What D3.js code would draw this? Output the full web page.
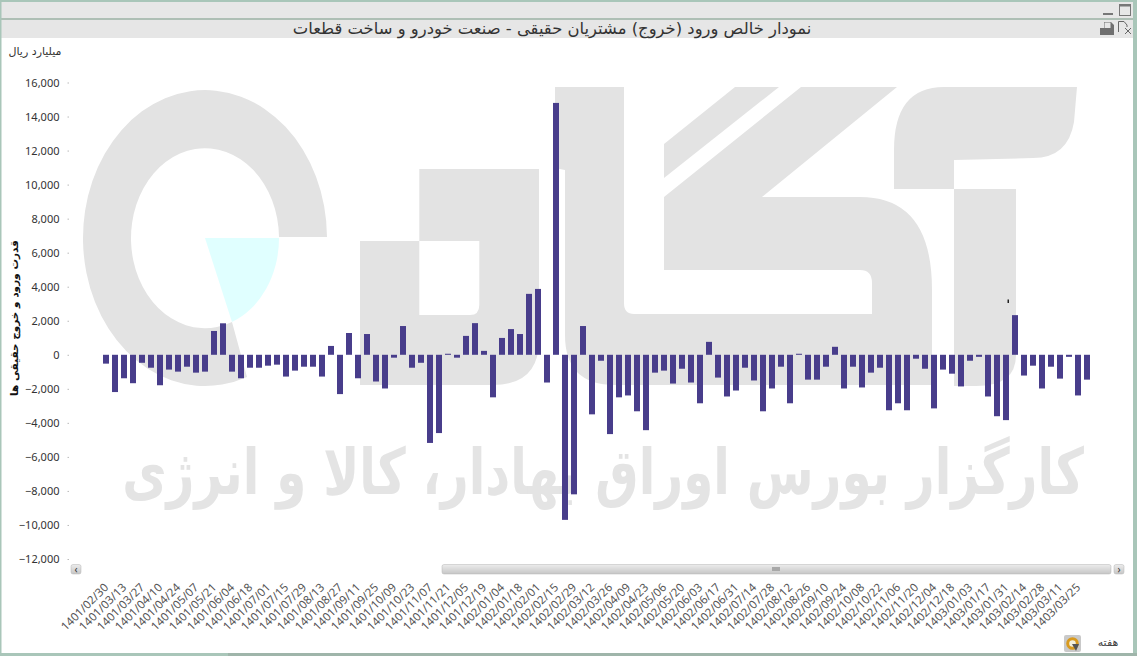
<!DOCTYPE html>
<html><head><meta charset="utf-8">
<script src="https://cdn.jsdelivr.net/npm/d3@7"></script>
<style>html,body{margin:0;padding:0;background:#fff;overflow:hidden}svg{display:block}</style></head>
<body><svg id="c" width="1137" height="656"></svg>
<script>
const chartTitle="نمودار خالص ورود (خروج) مشتریان حقیقی - صنعت خودرو و ساخت قطعات";
const unitLabel="میلیارد ریال";
const yTitle="قدرت ورود و خروج حقیقی ها";
const xTitle="هفته";
const watermarkText="کارگزار بورس اوراق بهادار، کالا و انرژی";
const yTicks=[16000,14000,12000,10000,8000,6000,4000,2000,0,-2000,-4000,-6000,-8000,-10000,-12000];
const tickLabels=["1401/02/30","1401/03/13","1401/03/27","1401/04/10","1401/04/24","1401/05/07","1401/05/21","1401/06/04","1401/06/18","1401/07/01","1401/07/15","1401/07/29","1401/08/13","1401/08/27","1401/09/11","1401/09/25","1401/10/09","1401/10/23","1401/11/07","1401/11/21","1401/12/05","1401/12/19","1402/01/04","1402/01/18","1402/02/01","1402/02/15","1402/02/29","1402/03/12","1402/03/26","1402/04/09","1402/04/23","1402/05/06","1402/05/20","1402/06/03","1402/06/17","1402/06/31","1402/07/14","1402/07/28","1402/08/12","1402/08/26","1402/09/10","1402/09/24","1402/10/08","1402/10/22","1402/11/06","1402/11/20","1402/12/04","1402/12/18","1403/01/03","1403/01/17","1403/01/31","1403/02/14","1403/02/28","1403/03/11","1403/03/25"];
const values=[-520,-2190,-1380,-1670,-470,-760,-1790,-870,-990,-700,-1050,-990,1400,1850,-990,-1380,-760,-760,-640,-580,-1280,-930,-700,-700,-1280,520,-2310,1280,-1380,1220,-1570,
-1980,-170,1690,-760,-470,-5180,-4600,60,-170,1110,1860,230,-2500,990,1510,1220,3580,3870,-1630,14800,-9700,-8200,1690,-3500,-350,-4660,-2500,-2390,-3320,-4430,-1050,-930,-1690,-820,-1630,-2850,760,-1340,-2450,-2100,-760,-1510,
-3320,-1980,-700,-2850,60,-1460,-1460,-700,470,-1980,-700,-1920,-1050,-760,-3260,-2850,-3260,-230,-820,-3150,-870,-1110,-1860,-350,-120,-2450,-3610,-3840,2330,-1220,-640,-1980,-700,-1400,-120,-2390,-1460];

const FA='"DejaVu Sans",sans-serif', LAT='"Noto Sans",sans-serif';
const svg=d3.select("#c");
const grad=svg.append("defs").append("linearGradient").attr("id","sb").attr("x1",0).attr("x2",0).attr("y1",0).attr("y2",1);
grad.append("stop").attr("offset",0).attr("stop-color","#ececec");
grad.append("stop").attr("offset",1).attr("stop-color","#c6c6c6");

// chrome
const chrome=svg.append("g");
const R=(x,y,w,h,f,g=chrome)=>g.append("rect").attr("x",x).attr("y",y).attr("width",w).attr("height",h).attr("fill",f);
R(0,0,1137,656,"#fff");
R(0,2,1133,16,"#e7e7e7");
R(0,20,1133,18,"#e6e6e6");
R(0,0,1137,2,"#a9c6b9");
R(0,18,1133,2,"#aebfb5");
R(0,0,1.5,656,"#a9c6b9");
R(1133,0,4,656,"#a9c6b9");
R(0,653,228,3,"#a9c6b9");
R(228,653,909,3,"#9fb5aa");

// watermark
const wm=svg.append("g").attr("fill","#e3e3e3");
const P=(d,f)=>{const p=wm.append("path").attr("d",d).attr("fill-rule","evenodd");if(f)p.attr("fill",f);return p;};
P("M327 237A122 148 0 1 0 247 377L232 322A74 90 0 1 1 279 237Z");
P("M205 238L279 238A74 90 0 0 1 232 322Z","#e0ffff");
P("M360 241H419.3V169H539V340Q539 385 493 385H360ZM419.3 241V315H470Q479.3 315 479.3 305V241Z");
P("M555 87H624V303Q624 314 634 314H872V283Q872 270 860 270H664V197L801 87H897L762 197H860Q932 197 932 290V385H615Q565 385 565 335V170L555 168Z");
P("M664 144L735 87H779L664 178Z");
P("M944 87H1077L1074 122Q1068 158 1033 158L954 160V189H894V150Q894 87 944 87Z");
P("M954 189H1016V355Q1016 386 976 386H954Z");
const wt=svg.append("text").text(watermarkText).attr("direction","rtl").attr("font-family",FA).attr("font-weight","bold").attr("font-size",44).attr("fill","#e4e4e4");
const tl=wt.node().getComputedTextLength();
wt.attr("text-anchor","middle").attr("transform",`translate(603,494) scale(${962/tl},1.45)`);

// scales
const x=d3.scaleBand().domain(d3.range(values.length)).range([101.5,1091.5]).paddingInner(1/3).paddingOuter(1/6);
const y=d3.scaleLinear().domain([-12000,16000]).range([559,82.5]);

// bars
svg.append("g").selectAll("rect").data(values).join("rect")
 .attr("x",(d,i)=>x(i)).attr("width",x.bandwidth())
 .attr("y",d=>y(Math.max(0,d))).attr("height",d=>Math.abs(y(d)-y(0)))
 .attr("fill","#483d8b");
R(1007.5,299.5,1.5,3.5,"#222",svg);

// axes
const ya=svg.append("g").attr("transform","translate(69,0)").call(d3.axisLeft(y).tickValues(yTicks).tickSize(1.5).tickPadding(8).tickFormat(d3.format(",")));
ya.select(".domain").remove();
ya.selectAll("line").attr("stroke","#bbb");
ya.selectAll("text").attr("font-family",LAT).attr("font-size",11).attr("fill","#333");

const xa=svg.append("g").attr("transform","translate(0,581)").call(d3.axisBottom(x).tickValues(d3.range(0,values.length,2)).tickSize(0).tickPadding(0).tickFormat(i=>tickLabels[i/2]));
xa.select(".domain").remove();
xa.selectAll("text").attr("font-family",LAT).attr("font-size",11.5).attr("fill","#555")
 .attr("text-anchor","end").attr("dy","0.35em").attr("x",0).attr("y",6).attr("transform","translate(-4,0) rotate(-45)");

// texts
const T=(s,xx,yy,fs,col,w)=>svg.append("text").text(s).attr("x",xx).attr("y",yy).attr("font-family",FA).attr("font-size",fs).attr("fill",col).attr("font-weight",w||"normal").attr("text-anchor","middle").attr("dominant-baseline","middle");
T(chartTitle,552,29,16.4,"#333");
T(unitLabel,35,52,11,"#333");
T(xTitle,1108,643,11,"#444");
T(yTitle,0,0,10.5,"#111","bold").attr("transform","translate(15,318) rotate(-90)");

// scrollbar
const sb=svg.append("g");
const SB=(a,w)=>sb.append("rect").attr("x",a).attr("y",564.5).attr("width",w).attr("height",9.5).attr("rx",2).attr("fill","url(#sb)").attr("stroke","#b5b5b5").attr("stroke-width",.5);
SB(71,10);SB(442,669);SB(1114,10);
sb.append("text").text("‹").attr("x",76).attr("y",572.5).attr("font-size",10).attr("text-anchor","middle").attr("fill","#333").attr("font-family",LAT);
sb.append("text").text("›").attr("x",1119).attr("y",572.5).attr("font-size",10).attr("text-anchor","middle").attr("fill","#333").attr("font-family",LAT);
R(772,567,8,4,"#a8a8a8",sb);

// window icons
const ic=svg.append("g");
R(1103,13,10,2,"#777",ic);
ic.append("rect").attr("x",1119.5).attr("y",4.5).attr("width",11).attr("height",11).attr("fill","none").attr("stroke","#777");
R(1119,4,12,2.5,"#777",ic);
ic.append("path").attr("d","M1100 35V28H1104V22H1111L1114 25V35Z").attr("fill","#6f6f6f");
R(1104.5,22.5,6,5.5,"#e6e6e6",ic);
ic.append("path").attr("d","M1118.5 32V21.5H1124L1127 25V27M1125 28L1131 34M1131 28L1125 34").attr("fill","none").attr("stroke","#666");
// refresh icon
R(1064,635,17,17,"#c9c9c9",ic).attr("rx",2);
ic.append("circle").attr("cx",1072.5).attr("cy",643.5).attr("r",4.8).attr("fill","#f4f0dc").attr("stroke","#d99a1e").attr("stroke-width",3);
ic.append("path").attr("d","M1072 644L1079 644L1076 651Z").attr("fill","#555");
</script></body></html>
